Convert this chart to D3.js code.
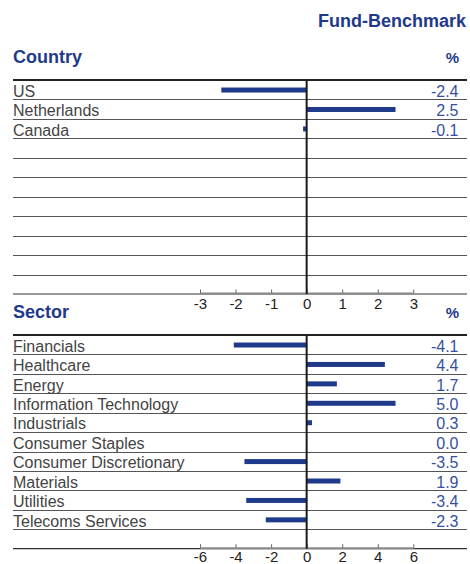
<!DOCTYPE html>
<html>
<head>
<meta charset="utf-8">
<script src="https://cdn.jsdelivr.net/npm/d3@7"></script>
<style>
  html, body { margin: 0; padding: 0; background: #fff; }
  svg { display: block; }
</style>
</head>
<body>
<svg id="chart" width="470" height="564"></svg>
<script>
// Relative weights vs. benchmark (Fund-Benchmark, %)
const countryNames = ["US", "Netherlands", "Canada"];
const countryValues = [-2.4, 2.5, -0.1];
const countryTicks = [-3, -2, -1, 0, 1, 2, 3];

const sectorNames = ["Financials", "Healthcare", "Energy", "Information Technology",
  "Industrials", "Consumer Staples", "Consumer Discretionary", "Materials",
  "Utilities", "Telecoms Services"];
const sectorValues = [-4.1, 4.4, 1.7, 5.0, 0.3, 0.0, -3.5, 1.9, -3.4, -2.3];
const sectorTicks = [-6, -4, -2, 0, 2, 4, 6];

const BLUE = "#1f3a8a";
const VALUE_BLUE = "#3650a0";
const TEXT = "#444";
const FONT = "'Liberation Sans', Arial, sans-serif";

const svg = d3.select("#chart");
const left = 13, right = 467;

svg.append("text")
  .attr("x", 466).attr("y", 27)
  .attr("text-anchor", "end")
  .attr("font-family", FONT).attr("font-weight", "bold")
  .attr("font-size", 18).attr("fill", BLUE)
  .text("Fund-Benchmark");

function panel(opts) {
  const g = svg.append("g");
  const nRows = 11;
  const y = d3.scaleBand().domain(d3.range(nRows)).range([opts.top, opts.bottom]);
  const x = d3.scaleLinear().domain(opts.domain).range([200, 413.3]);
  const rows = opts.names.map((n, i) => ({ name: n, value: opts.values[i], i }));

  // title and unit
  g.append("text")
    .attr("x", left).attr("y", opts.top - 17)
    .attr("font-family", FONT).attr("font-weight", "bold")
    .attr("font-size", 18).attr("fill", BLUE)
    .text(opts.title);
  g.append("text")
    .attr("x", 459).attr("y", opts.top - 17)
    .attr("text-anchor", "end")
    .attr("font-family", FONT).attr("font-weight", "bold")
    .attr("font-size", 15).attr("fill", BLUE)
    .text("%");

  // row separators
  g.selectAll("line.row")
    .data(d3.range(1, nRows))
    .join("line")
    .attr("class", "row")
    .attr("x1", left).attr("x2", right)
    .attr("y1", d => Math.round(y(d)) + 0.5).attr("y2", d => Math.round(y(d)) + 0.5)
    .attr("stroke", "#555").attr("stroke-width", 1);

  // top rule
  g.append("line")
    .attr("x1", left).attr("x2", right)
    .attr("y1", opts.top).attr("y2", opts.top)
    .attr("stroke", "#222").attr("stroke-width", 2);

  // bottom rule
  g.append("line")
    .attr("x1", left).attr("x2", right)
    .attr("y1", opts.bottom).attr("y2", opts.bottom)
    .attr("stroke", "#333").attr("stroke-width", 1.2);

  // category labels
  g.selectAll("text.cat")
    .data(rows)
    .join("text")
    .attr("class", "cat")
    .attr("x", left)
    .attr("y", d => y(d.i) + 16.7)
    .attr("font-family", FONT).attr("font-size", 16).attr("fill", TEXT)
    .text(d => d.name);

  // value labels
  g.selectAll("text.val")
    .data(rows)
    .join("text")
    .attr("class", "val")
    .attr("x", 458.5)
    .attr("y", d => y(d.i) + 16.7)
    .attr("text-anchor", "end")
    .attr("font-family", FONT).attr("font-size", 16).attr("fill", VALUE_BLUE)
    .text(d => d.value.toFixed(1));

  // bars
  const barH = 5;
  g.selectAll("rect.bar")
    .data(rows)
    .join("rect")
    .attr("class", "bar")
    .attr("x", d => Math.min(x(0), x(d.value)))
    .attr("width", d => Math.abs(x(d.value) - x(0)))
    .attr("y", d => y(d.i) + y.bandwidth() / 2 - barH / 2 + 0.3)
    .attr("height", barH)
    .attr("fill", BLUE);

  // axis
  const axis = d3.axisBottom(x)
    .tickValues(opts.ticks)
    .tickFormat(d => String(d))
    .tickSize(0).tickPadding(0).tickSizeOuter(0);
  const ax = g.append("g")
    .attr("transform", `translate(0,${opts.bottom - 1})`)
    .call(axis);
  ax.select(".domain").attr("stroke", "#8a8a8a").attr("stroke-width", 2);
  ax.selectAll(".tick line").remove();
  ax.selectAll(".tick").append("line")
    .attr("y1", 0).attr("y2", -3.5)
    .attr("stroke", "#666").attr("stroke-width", 1);
  ax.selectAll(".tick text")
    .attr("y", opts.tickY).attr("dy", null)
    .attr("font-family", FONT).attr("font-size", 15).attr("fill", "#222");

  // zero line
  g.append("line")
    .attr("x1", x(0)).attr("x2", x(0))
    .attr("y1", opts.top).attr("y2", opts.bottom)
    .attr("stroke", "#1a1a1a").attr("stroke-width", 2);
}

panel({ title: "Country", top: 80, bottom: 294, names: countryNames, values: countryValues,
  domain: [-3, 3], ticks: countryTicks, tickY: 16 });
panel({ title: "Sector", top: 335, bottom: 548.7, names: sectorNames, values: sectorValues,
  domain: [-6, 6], ticks: sectorTicks, tickY: 14.3 });
</script>
</body>
</html>
